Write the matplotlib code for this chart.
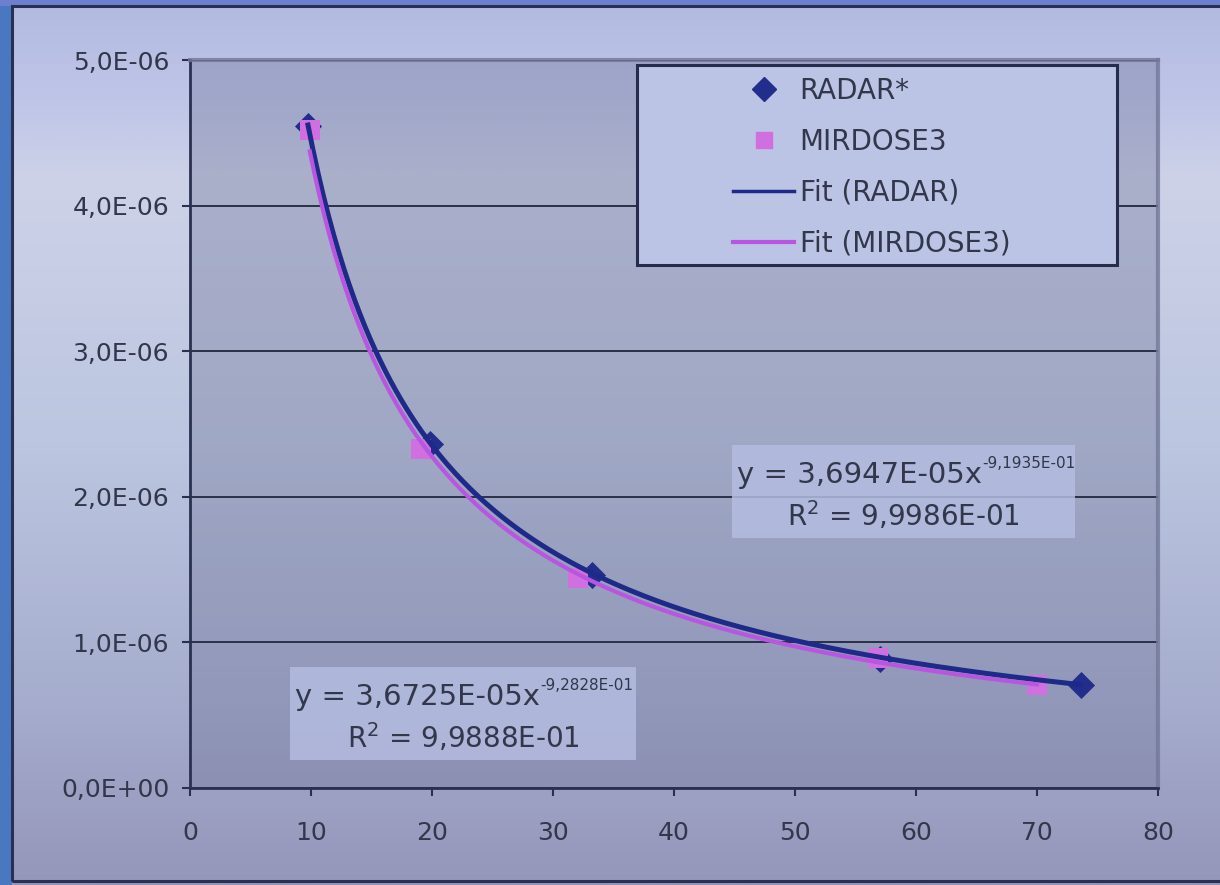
import numpy as np
import matplotlib
matplotlib.use('Agg')
import matplotlib.pyplot as plt
from matplotlib.patches import Rectangle
from matplotlib.lines import Line2D

# data
radar_x = [9.75, 19.8, 33.2, 57.0, 73.6]
radar_y = [4.55e-6, 2.36e-6, 1.46e-6, 0.885e-6, 0.71e-6]
mirdose_x = [9.9, 19.1, 32.1, 56.9, 70.0]
mirdose_y = [4.52e-6, 2.33e-6, 1.44e-6, 0.89e-6, 0.71e-6]

# power trendlines as printed on the chart: coefficient, exponent
radar_fit = (3.6947e-05, -9.1935e-01)
mirdose_fit = (3.6725e-05, -9.2828e-01)
radar_eq = ('y = 3,6947E-05x', '-9,1935E-01', ' = 9,9986E-01')
mirdose_eq = ('y = 3,6725E-05x', '-9,2828E-01', ' = 9,9888E-01')

x_ticks = [0, 10, 20, 30, 40, 50, 60, 70, 80]
y_ticks = [0, 1e-6, 2e-6, 3e-6, 4e-6, 5e-6]
y_tick_labels = ['0,0E+00', '1,0E-06', '2,0E-06', '3,0E-06', '4,0E-06', '5,0E-06']
legend_labels = ['RADAR*', 'MIRDOSE3', 'Fit (RADAR)', 'Fit (MIRDOSE3)']

BLUE = '#232d8c'
BLUE_LINE = '#1e2a88'
PINK = '#d070e0'
PINK_LINE = '#b956e0'
TEXT = '#32374b'

plt.rcParams['font.family'] = 'DejaVu Sans'

fig = plt.figure(figsize=(12.2, 8.85), dpi=100)


def ax_pos(px, py):
    """ Pixel position in the picture -> axes fraction. """
    return (px - 190) / 968, (788 - py) / 728


# Fake the sky / sea photo with a vertical gradient
bg = fig.add_axes([0, 0, 1, 1])
bg.set_zorder(-5)
stops = [0.0, 0.12, 0.2, 0.5, 0.8, 1.0]
cols = np.array([[178, 186, 225], [192, 198, 232], [205, 210, 232],
                 [188, 198, 224], [165, 172, 205], [148, 150, 186]]) / 255.0
rows = np.linspace(0, 1, 400)
grad = np.stack([np.interp(rows, stops, cols[:, i]) for i in range(3)], axis=-1)
bg.imshow(grad[:, None, :], aspect='auto', extent=[0, 1, 0, 1])
bg.set_xlim(0, 1)
bg.set_ylim(0, 1)
bg.axis('off')
# blue strips outside the slide frame
bg.add_patch(Rectangle((0, 0), 12 / 1220, 1, facecolor='#4a78c0', edgecolor='none',
                       transform=fig.transFigure))
bg.add_patch(Rectangle((0, 1 - 6 / 885), 1, 6 / 885, facecolor='#6d80d0',
                       edgecolor='none', transform=fig.transFigure))
bg.add_patch(Rectangle((12 / 1220, 4 / 885), 1.1, 1 - 10 / 885, facecolor='none',
                       edgecolor='#2a3050', lw=2.2, transform=fig.transFigure))

ax = fig.add_axes([190 / 1220, 97 / 885, 968 / 1220, 728 / 885])
ax.set_facecolor((110 / 255, 115 / 255, 150 / 255, 0.36))

ax.scatter(radar_x, radar_y, marker='D', s=190, color=BLUE, zorder=3, linewidths=0)
ax.scatter(mirdose_x, mirdose_y, marker='s', s=200, color=PINK, zorder=4, linewidths=0)

xr = np.linspace(radar_x[0], radar_x[-1], 300)
ax.plot(xr, radar_fit[0] * xr ** radar_fit[1], color=BLUE_LINE, lw=3.6, zorder=5)
xm = np.linspace(mirdose_x[0], mirdose_x[-1], 300)
ax.plot(xm, mirdose_fit[0] * xm ** mirdose_fit[1], color=PINK_LINE, lw=3.0, zorder=6)

ax.set_xlim(0, 80)
ax.set_ylim(0, 5e-6)
ax.set_xticks(x_ticks)
ax.set_yticks(y_ticks)
ax.set_yticklabels(y_tick_labels)
ax.tick_params(axis='x', direction='out', length=6, width=1.5, color='#2a3050',
               labelsize=18, labelcolor=TEXT, pad=18)
ax.tick_params(axis='y', direction='out', length=6, width=1.5, color='#2a3050',
               labelsize=18, labelcolor=TEXT, pad=9)
ax.grid(axis='y', color='#2a3048', lw=1.4)
ax.set_axisbelow(True)
for side in ['left', 'bottom']:
    ax.spines[side].set_color('#2a3050')
    ax.spines[side].set_linewidth(2)
for side in ['top', 'right']:
    ax.spines[side].set_color((0.45, 0.47, 0.6, 0.8))
    ax.spines[side].set_linewidth(3)

# legend box
x0, y0 = ax_pos(637, 265)
ax.add_patch(Rectangle((x0, y0), 480 / 968, 200 / 728, transform=ax.transAxes,
                       facecolor='#bcc4e6', edgecolor='#262c4c', lw=2.2, zorder=7))
handles = [Line2D([], [], ls='none', marker='D', ms=12, color=BLUE),
           Line2D([], [], ls='none', marker='s', ms=12, color=PINK),
           Line2D([], [], color=BLUE_LINE, lw=2.5),
           Line2D([], [], color=PINK_LINE, lw=3)]
leg = ax.legend(handles, legend_labels, loc='upper left',
                bbox_to_anchor=ax_pos(733, 77), frameon=False, fontsize=20,
                borderpad=0, borderaxespad=0, handlelength=2.2,
                handletextpad=0.2, labelspacing=0.82)
leg.set_zorder(8)
for t in leg.get_texts():
    t.set_color(TEXT)


def equation_box(left, top, right, bottom, eq):
    """ Trendline label: y = a x^b and R^2 in a pale box. """
    bx, by = ax_pos(left, bottom)
    ax.add_patch(Rectangle((bx, by), (right - left) / 968, (bottom - top) / 728,
                           transform=ax.transAxes, facecolor='#b4bce0',
                           edgecolor='none', alpha=0.85, zorder=7))
    main, power, r2 = eq
    t = ax.text(*ax_pos(left + 5, top + 30), main, transform=ax.transAxes,
                ha='left', va='center', fontsize=21, color=TEXT, zorder=8)
    ax.annotate(power, xy=(1, 0.9), xycoords=t, ha='left', va='center',
                fontsize=11, color=TEXT, zorder=8)
    ax.text(*ax_pos((left + right) / 2, top + 71), 'R$^{\\mathregular{2}}$' + r2,
            transform=ax.transAxes, ha='center', va='center', fontsize=20,
            color=TEXT, zorder=8)


equation_box(732, 445, 1075, 538, radar_eq)
equation_box(290, 667, 636, 760, mirdose_eq)

plt.savefig('out.png', dpi=100)
